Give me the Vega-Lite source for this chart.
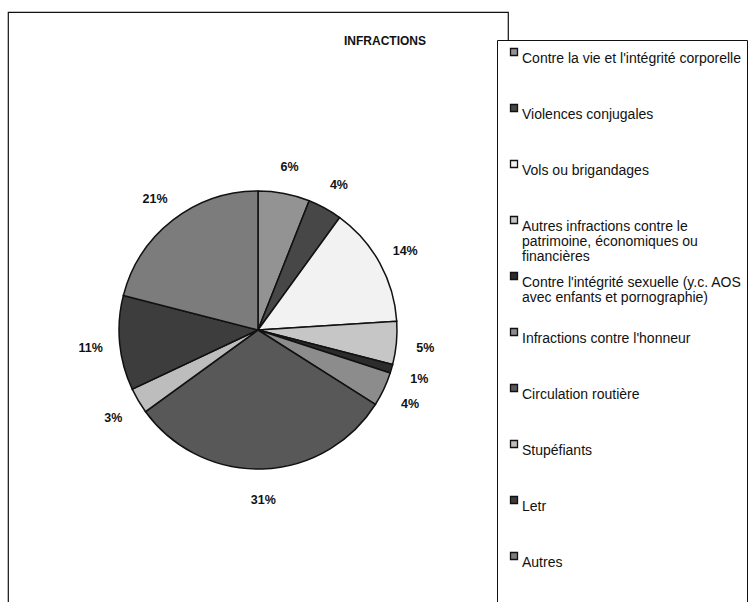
{
  "$schema": "https://vega.github.io/schema/vega-lite/v6.json",
  "width": 500,
  "height": 636,
  "autosize": {"type": "none"},
  "padding": {"left": 8, "top": 12, "right": 247, "bottom": -46},
  "background": "white",
  "title": {
    "text": "INFRACTIONS",
    "font": "Liberation Sans",
    "fontSize": 12,
    "fontWeight": "bold",
    "color": "#111",
    "anchor": "middle",
    "dx": 127,
    "dy": 40
  },
  "data": {
    "values": [
      {"rang": 1, "cat": "Contre la vie et l'intégrité corporelle", "part": 0.06},
      {"rang": 2, "cat": "Violences conjugales", "part": 0.04},
      {"rang": 3, "cat": "Vols ou brigandages", "part": 0.14},
      {"rang": 4, "cat": "Autres infractions contre le patrimoine, économiques ou financières", "part": 0.05},
      {"rang": 5, "cat": "Contre l'intégrité sexuelle (y.c. AOS avec enfants et pornographie)", "part": 0.01},
      {"rang": 6, "cat": "Infractions contre l'honneur", "part": 0.04},
      {"rang": 7, "cat": "Circulation routière", "part": 0.31},
      {"rang": 8, "cat": "Stupéfiants", "part": 0.03},
      {"rang": 9, "cat": "Letr", "part": 0.11},
      {"rang": 10, "cat": "Autres", "part": 0.21}
    ]
  },
  "encoding": {
    "theta": {"field": "part", "type": "quantitative", "stack": true},
    "order": {"field": "rang", "type": "quantitative"}
  },
  "layer": [
    {
      "mark": {"type": "arc", "outerRadius": 139, "stroke": "#111", "strokeWidth": 1.5},
      "encoding": {
        "color": {
          "field": "cat",
          "type": "nominal",
          "sort": null,
          "scale": {
            "domain": [
              "Contre la vie et l'intégrité corporelle",
              "Violences conjugales",
              "Vols ou brigandages",
              "Autres infractions contre le patrimoine, économiques ou financières",
              "Contre l'intégrité sexuelle (y.c. AOS avec enfants et pornographie)",
              "Infractions contre l'honneur",
              "Circulation routière",
              "Stupéfiants",
              "Letr",
              "Autres"
            ],
            "range": ["#939393", "#474747", "#f2f2f2", "#c6c6c6", "#2c2c2c", "#8c8c8c", "#585858", "#bdbdbd", "#3d3d3d", "#7c7c7c"]
          },
          "legend": {
            "title": " ",
            "titleOrient": "bottom",
            "titleFontSize": 30,
            "titlePadding": 0,
            "orient": "none",
            "legendX": 489,
            "legendY": 28,
            "direction": "vertical",
            "strokeColor": "#111",
            "fillColor": "white",
            "padding": 5,
            "symbolOffset": 5,
            "gridAlign": "all",
            "rowPadding": 5,
            "symbolType": "square",
            "symbolSize": 49,
            "symbolStrokeColor": "#111",
            "symbolStrokeWidth": 1.3,
            "labelFont": "Liberation Sans",
            "labelFontSize": 14,
            "labelColor": "#111",
            "labelLimit": 340,
            "labelOffset": 1,
            "labelBaseline": "top",
            "labelExpr": "datum.label == 'Autres infractions contre le patrimoine, économiques ou financières' ? ['Autres infractions contre le', 'patrimoine, économiques ou', 'financières'] : datum.label == \"Contre l'intégrité sexuelle (y.c. AOS avec enfants et pornographie)\" ? [\"Contre l'intégrité sexuelle (y.c. AOS\", 'avec enfants et pornographie)'] : datum.label"
          }
        }
      }
    },
    {
      "mark": {"type": "text", "radius": 168, "font": "Liberation Sans", "fontSize": 12.5, "fontWeight": "bold", "fill": "#111", "dy": 2},
      "encoding": {
        "detail": {"field": "cat", "type": "nominal"},
        "text": {"field": "part", "type": "quantitative", "format": ".0%"}
      }
    }
  ],
  "config": {
    "style": {
      "view": {"stroke": "#111", "strokeWidth": 1.2},
      "cell": {"stroke": "#111", "strokeWidth": 1.2},
      "guide-label": {"lineHeight": 15}
    }
  }
}
